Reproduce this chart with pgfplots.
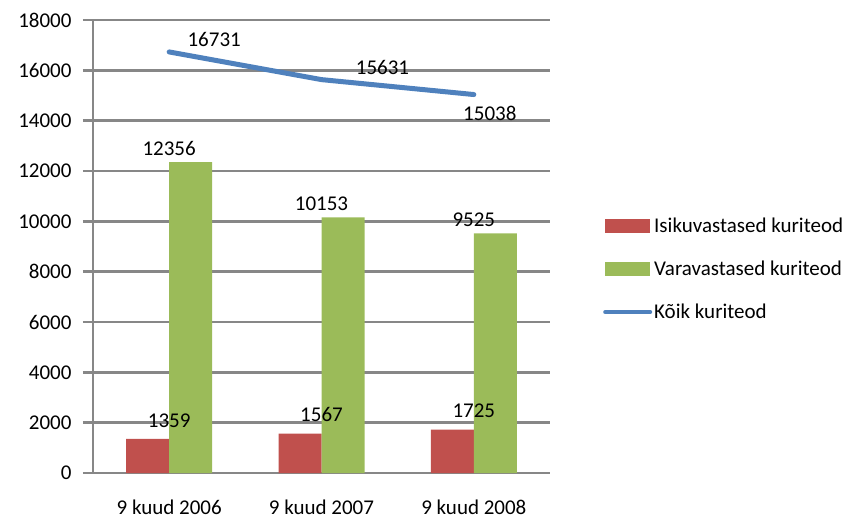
\documentclass[border=0pt]{standalone}
\usepackage{pgfplots}
\pgfplotsset{compat=1.18}
\usepackage{fontspec}
\setmainfont{Carlito}
\definecolor{cred}{HTML}{C0504D}
\definecolor{cgreen}{HTML}{9BBB59}
\definecolor{cblue}{HTML}{4F81BD}
\definecolor{cgrid}{HTML}{878787}
\newcommand\f{\fontsize{21bp}{25bp}\selectfont}
\begin{document}
\begin{tikzpicture}[font=\f]
\path[use as bounding box] (0bp,0bp) rectangle (865bp,520bp);
\begin{axis}[
  at={(93bp,47bp)}, anchor=south west,
  scale only axis, width=457bp, height=453bp,
  /pgf/number format/assume math mode=true,
  xmin=-0.5, xmax=2.5, ymin=0, ymax=18000,
  ytick distance=2000,
  scaled y ticks=false,
  /pgf/number format/1000 sep={},
  xtick={0,1,2},
  xticklabels={9 kuud 2006, 9 kuud 2007, 9 kuud 2008},
  major x tick style={draw=none},
  extra x ticks={-0.5,0.5,1.5,2.5},
  extra x tick labels={},
  extra x tick style={major tick length=8bp, tick style={draw=cgrid, line width=2.5bp}, grid=none},
  xticklabel style={yshift=-13bp},
  yticklabel style={xshift=-8bp},
  axis lines=left,
  axis line style={-, draw=cgrid, line width=2.5bp},
  ymajorgrids,
  grid style={draw=cgrid, line width=2.5bp},
  tick align=outside,
  major tick length=10bp,
  tick style={draw=cgrid, line width=2.5bp},
  clip=false,
  legend style={at={(1.116,0.568)}, anchor=north west, draw=none, fill=none,
    row sep=23bp, cells={anchor=west}, inner sep=0pt, /tikz/every even column/.append style={column sep=2bp}},
  legend cell align=left,
]
\addplot[ybar, bar width=43bp, bar shift=-21.5bp, fill=cred, draw=none,
  nodes near coords, nodes near coords style={text=black, yshift=8bp},
  legend image code/.code={\fill[cred] (0,-7bp) rectangle (45bp,7bp);}]
  coordinates {(0,1359) (1,1567) (2,1725)};
\addlegendentry{Isikuvastased kuriteod}
\addplot[ybar, bar width=43bp, bar shift=21.5bp, fill=cgreen, draw=none,
  nodes near coords, nodes near coords style={text=black, yshift=3bp},
  legend image code/.code={\fill[cgreen] (0,-7bp) rectangle (45bp,7bp);}]
  coordinates {(0,12356) (1,10153) (2,9525)};
\addlegendentry{Varavastased kuriteod}
\addplot[cblue, line width=5bp, mark=none, line cap=round,
  legend image code/.code={\draw[cblue, line width=4bp, line cap=round] (0,0) -- (45bp,0);}]
  coordinates {(0,16731) (1,15631) (2,15038)};
\addlegendentry{Kõik kuriteod}
\node at (axis cs:0,16731) [xshift=45bp, yshift=12bp] {16731};
\node at (axis cs:1,15631) [xshift=61bp, yshift=12bp] {15631};
\node at (axis cs:2,15038) [xshift=16bp, yshift=-19bp] {15038};
\end{axis}
\end{tikzpicture}
\end{document}
